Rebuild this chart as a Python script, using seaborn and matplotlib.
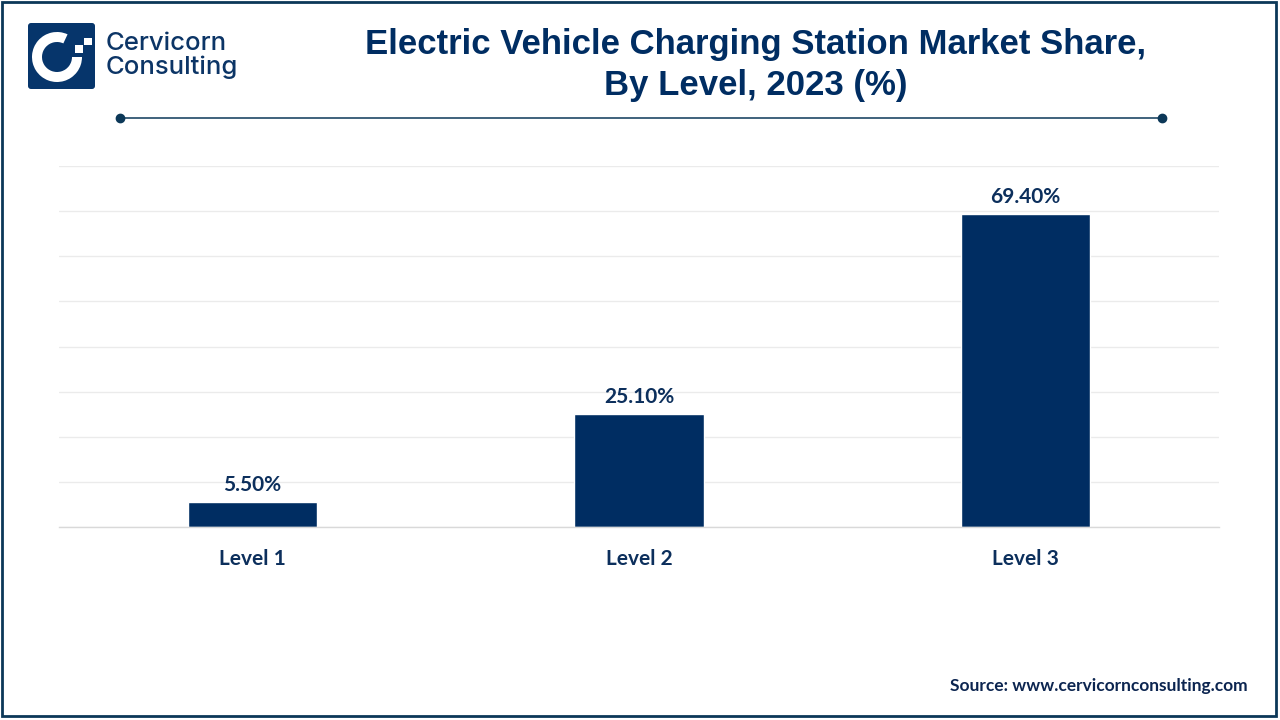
import matplotlib
matplotlib.use('Agg')
import matplotlib.pyplot as plt
from matplotlib.patches import Rectangle, FancyBboxPatch, Wedge
import pandas as pd
import seaborn as sns

levels = ['Level 1', 'Level 2', 'Level 3']
shares = [5.5, 25.1, 69.4]
share_labels = ['5.50%', '25.10%', '69.40%']
y_ticks = [0, 10, 20, 30, 40, 50, 60, 70, 80]

navy = '#002d62'
text_navy = '#0c2f5c'
border = '#0c3858'
W, H = 1280, 720

sns.set_theme(style='white')
plt.rcParams['font.family'] = ['Lato', 'DejaVu Sans']

fig = plt.figure(figsize=(12.8, 7.2), dpi=100, facecolor='white')


def px(x, y):
    # pixel position from the top left corner to figure fraction
    return x / W, 1 - y / H


# chart
ax = fig.add_axes([59 / W, 1 - 527 / H, 1160 / W, 361 / H])
frame = pd.DataFrame({'level': levels, 'share': shares})
sns.barplot(data=frame, x='level', y='share', color=navy, width=0.335, saturation=1, ax=ax)
ax.set_xlim(-0.5, 2.5)
ax.set_ylim(0, 80)
ax.set_yticks(y_ticks)
ax.set_xlabel('')
ax.set_ylabel('')
ax.grid(axis='y', color='#ebebeb', linewidth=1)
ax.set_axisbelow(True)
ax.tick_params(axis='y', left=False, labelleft=False)
ax.tick_params(axis='x', bottom=False, pad=10)
for label in ax.get_xticklabels():
    label.set_fontsize(15)
    label.set_fontweight('bold')
    label.set_color(text_navy)
for side in ['top', 'left', 'right']:
    ax.spines[side].set_visible(False)
ax.spines['bottom'].set_color('#d9d9d9')
ax.spines['bottom'].set_linewidth(1)
for i, val in enumerate(shares):
    ax.annotate(share_labels[i], (i, val), xytext=(0, 5), textcoords='offset points',
                ha='center', va='bottom', fontsize=15, fontweight='bold', color=text_navy)

# title
x, y = px(756, 65)
fig.text(x, y, 'Electric Vehicle Charging Station Market Share,\nBy Level, 2023 (%)',
         family='Liberation Sans', fontsize=25, fontweight='bold', color=navy,
         ha='center', va='center', linespacing=1.28)

# rule under the title with end dots
x0, y0 = px(120, 118)
x1, _ = px(1162, 118)
fig.add_artist(plt.Line2D([x0, x1], [y0, y0], color=border, linewidth=1.1,
                          marker='o', markersize=6, markevery=[0, 1]))

# logo, drawn in pixel coordinates
logo = fig.add_axes([0, 0, 1, 1], facecolor='none')
logo.set_xlim(0, W)
logo.set_ylim(H, 0)
logo.axis('off')
logo.add_patch(FancyBboxPatch((28, 23), 67, 66, boxstyle='round,pad=0,rounding_size=3',
                              facecolor='#06356b', edgecolor='none'))
logo.add_patch(Wedge((57, 57), 25, 0, 295, width=10, facecolor='white', edgecolor='none'))
logo.add_patch(Rectangle((75, 45), 8, 8, facecolor='white', edgecolor='none'))
logo.add_patch(Rectangle((84, 38), 8, 7, facecolor='white', edgecolor='none'))
logo.text(106, 43, 'Cervicorn', family='Inter', fontsize=18.5,
          fontweight='medium', color='#0c3566', ha='left', va='center')
logo.text(106, 67, 'Consulting', family='Inter', fontsize=18.5,
          fontweight='medium', color='#0c3566', ha='left', va='center')

# source
x, y = px(1248, 686)
fig.text(x, y, 'Source: www.cervicornconsulting.com', fontsize=12.5, fontweight='bold',
         color='#0c2550', ha='right', va='center')

# outer border
fig.add_artist(Rectangle((1.5 / W, 1 - 716 / H), 1274.5 / W, 714.5 / H, transform=fig.transFigure,
                         facecolor='none', edgecolor=border, linewidth=2))

fig.savefig('out.png', dpi=100)
